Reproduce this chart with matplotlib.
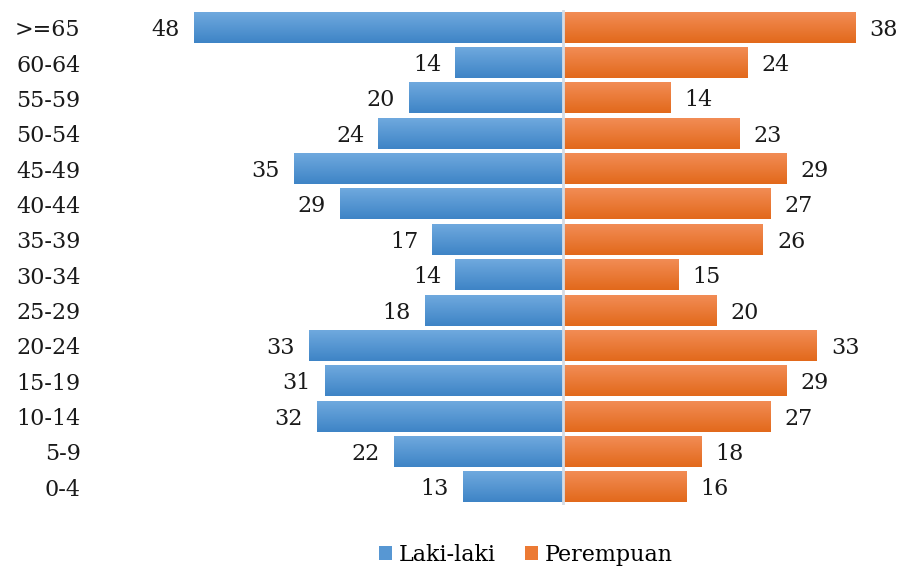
import numpy as np
import matplotlib
matplotlib.use('Agg')
from matplotlib import pyplot as plt
from matplotlib.colors import LinearSegmentedColormap
from matplotlib.patches import Patch

# kelompok umur, dari bawah ke atas
kelompok = ['0-4', '5-9', '10-14', '15-19', '20-24', '25-29', '30-34',
            '35-39', '40-44', '45-49', '50-54', '55-59', '60-64', '>=65']
laki = [13, 22, 32, 31, 33, 18, 14, 17, 29, 35, 24, 20, 14, 48]
perempuan = [16, 18, 27, 29, 33, 20, 15, 26, 27, 29, 23, 14, 24, 38]

plt.rcParams['font.family'] = ['DejaVu Serif']

fig = plt.figure(figsize=(9.02, 5.69), dpi=100)
W, H = 902, 569
ax = fig.add_axes([100 / W, 1 - 505 / H, 790 / W, 495 / H])

skala = 7.69  # px per unit
y = np.arange(len(kelompok))
biru = LinearSegmentedColormap.from_list('biru', ['#3e84c6', '#6fa9de'])
oranye = LinearSegmentedColormap.from_list('oranye', ['#e2691b', '#f28c55'])
grad = np.linspace(0, 1, 64).reshape(-1, 1)

def gambarBatang(nilai, cmap, tanda):
    bars = ax.barh(y, [tanda * v for v in nilai], height=0.85, color='none', edgecolor='none')
    for b, v in zip(bars, nilai):
        x0, y0 = b.get_x(), b.get_y()
        x1, y1 = x0 + b.get_width(), y0 + b.get_height()
        ax.imshow(grad, cmap=cmap, origin='lower', aspect='auto',
                  extent=(min(x0, x1), max(x0, x1), y0, y1), zorder=2)
        ax.annotate(str(v), (tanda * v, b.get_y() + b.get_height() / 2),
                    xytext=(tanda * 14, -2), textcoords='offset pixels',
                    ha='right' if tanda < 0 else 'left', va='center',
                    fontsize=16, color='#1a1a1a')

gambarBatang(laki, biru, -1)
gambarBatang(perempuan, oranye, 1)

ax.set_xlim(-(563 - 100) / skala, (890 - 563) / skala)
ax.set_ylim(-0.5, len(kelompok) - 0.5)
ax.axvline(0, color='#d6dce5', lw=2, zorder=3)

ax.set_yticks(y)
ax.set_yticklabels(kelompok, fontsize=16, color='#1a1a1a')
ax.tick_params(axis='y', length=0, pad=14)
ax.set_xticks([])
for s in ax.spines.values():
    s.set_visible(False)

handles = [Patch(facecolor='#5797d3', label='Laki-laki'),
           Patch(facecolor='#ec7a34', label='Perempuan')]
fig.legend(handles=handles, loc='center', bbox_to_anchor=(526 / W, 1 - 555 / H),
           ncol=2, frameon=False, fontsize=16, handlelength=0.6,
           handleheight=0.6, handletextpad=0.3, columnspacing=1.3)

fig.savefig('out.png', dpi=100)
